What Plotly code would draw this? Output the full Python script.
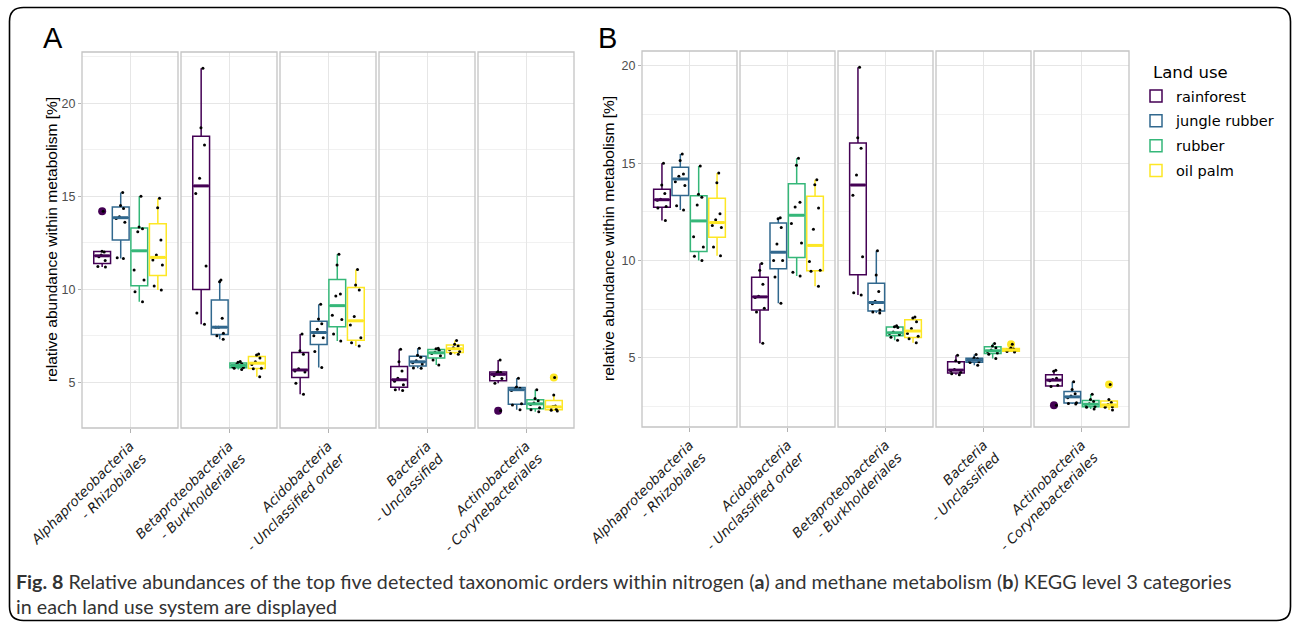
import numpy as np
import plotly.graph_objects as go

W, H = 1293, 624

land_use = ["rainforest", "jungle rubber", "rubber", "oil palm"]
land_colors = ["#440154", "#31688E", "#35B779", "#FDE725"]

# x labels of the two panels
orders_nitrogen = [
    "Alphaproteobacteria<br> - Rhizobiales",
    "Betaproteobacteria<br> - Burkholderiales",
    "Acidobacteria<br> - Unclassified order",
    "Bacteria<br> - Unclassified",
    "Actinobacteria<br> - Corynebacteriales",
]
orders_methane = [
    "Alphaproteobacteria<br> - Rhizobiales",
    "Acidobacteria<br> - Unclassified order",
    "Betaproteobacteria<br> - Burkholderiales",
    "Bacteria<br> - Unclassified",
    "Actinobacteria<br> - Corynebacteriales",
]

# relative abundance [%] per plot, one list per land use (rainforest, jungle rubber, rubber, oil palm)
# nitrogen metabolism (A)
n_rhizobiales = [
    [11.2, 11.22, 11.55, 11.75, 11.85, 12.0, 12.05, 14.2],
    [11.65, 11.7, 13.6, 13.8, 13.9, 14.35, 14.5, 15.2],
    [9.33, 9.87, 10.5, 11.04, 13.1, 13.25, 13.35, 15.0],
    [9.96, 10.18, 11.31, 11.58, 11.85, 12.65, 14.39, 14.9],
]
n_burkholderiales = [
    [8.12, 8.73, 11.25, 15.15, 15.97, 17.76, 18.69, 21.88],
    [7.31, 7.5, 7.63, 7.96, 7.96, 8.44, 10.41, 10.5],
    [5.68, 5.75, 5.8, 5.85, 5.95, 6.0, 6.08, 6.12],
    [5.3, 5.72, 5.75, 5.95, 6.1, 6.3, 6.47, 6.52],
]
n_acidobacteria = [
    [4.35, 4.95, 5.55, 5.6, 5.72, 6.5, 6.7, 7.6],
    [5.8, 6.65, 7.4, 7.5, 7.85, 8.15, 8.4, 9.2],
    [7.22, 7.6, 8.37, 8.6, 9.64, 9.75, 11.31, 11.88],
    [6.95, 7.13, 7.4, 8.08, 8.53, 9.96, 10.23, 11.07],
]
n_bacteria = [
    [4.55, 4.6, 4.86, 5.05, 5.22, 5.6, 6.1, 6.78],
    [5.75, 5.76, 5.98, 6.05, 6.15, 6.35, 6.45, 6.83],
    [5.93, 6.2, 6.42, 6.55, 6.62, 6.72, 6.8, 6.83],
    [6.5, 6.55, 6.65, 6.75, 6.85, 6.95, 7.05, 7.24],
]
n_corynebacteriales = [
    [3.47, 4.95, 5.2, 5.35, 5.5, 5.52, 5.57, 6.2],
    [3.52, 3.78, 3.85, 4.55, 4.65, 4.68, 4.75, 5.22],
    [3.42, 3.52, 3.63, 3.8, 3.88, 4.0, 4.12, 4.6],
    [3.45, 3.5, 3.55, 3.65, 3.7, 3.72, 4.32, 5.25],
]

# methane metabolism (B)
m_rhizobiales = [
    [12.05, 12.7, 12.78, 13.1, 13.15, 13.45, 13.88, 15.0],
    [12.6, 12.82, 13.86, 14.05, 14.33, 14.45, 15.14, 15.47],
    [10.0, 10.22, 10.7, 11.22, 12.85, 13.25, 13.4, 14.86],
    [10.25, 10.7, 11.7, 11.8, 12.1, 12.4, 14.0, 14.5],
]
m_acidobacteria = [
    [5.74, 7.35, 7.55, 8.1, 8.16, 8.78, 9.5, 9.85],
    [7.8, 9.15, 10.0, 10.0, 10.85, 11.7, 12.15, 12.2],
    [9.2, 9.4, 10.9, 11.9, 12.75, 13.0, 14.9, 15.25],
    [8.68, 9.45, 9.5, 9.95, 11.6, 12.7, 13.9, 14.15],
]
m_burkholderiales = [
    [8.22, 8.34, 10.19, 13.36, 14.4, 15.77, 16.31, 19.93],
    [7.3, 7.35, 7.45, 7.78, 7.9, 8.4, 9.25, 10.5],
    [5.9, 6.05, 6.2, 6.25, 6.32, 6.55, 6.6, 6.65],
    [5.77, 5.98, 6.1, 6.25, 6.5, 6.85, 7.05, 7.1],
]
m_bacteria = [
    [4.13, 4.18, 4.25, 4.33, 4.4, 4.75, 4.85, 5.13],
    [4.62, 4.75, 4.8, 4.85, 4.9, 4.95, 5.0, 5.17],
    [4.96, 5.18, 5.25, 5.32, 5.4, 5.52, 5.6, 5.73],
    [5.3, 5.32, 5.35, 5.38, 5.42, 5.45, 5.5, 5.69],
]
m_corynebacteriales = [
    [2.56, 3.52, 3.58, 3.82, 3.88, 3.95, 4.3, 4.36],
    [2.62, 2.65, 2.69, 2.95, 3.03, 3.15, 3.37, 3.76],
    [2.36, 2.45, 2.5, 2.58, 2.64, 2.75, 2.85, 3.13],
    [2.31, 2.45, 2.48, 2.55, 2.6, 2.7, 2.86, 3.63],
]

y_ticks = [5, 10, 15, 20]

panels = [
    dict(labels=orders_nitrogen,
         data=[n_rhizobiales, n_burkholderiales, n_acidobacteria, n_bacteria, n_corynebacteriales],
         left=[82, 181, 280, 379, 478], width=96, top=52, bottom=428,
         yrange=[2.54, 22.76], letter="A", letter_x=53, ytitle_x=52),
    dict(labels=orders_methane,
         data=[m_rhizobiales, m_acidobacteria, m_burkholderiales, m_bacteria, m_corynebacteriales],
         left=[642, 740, 838, 936, 1034], width=95, top=51, bottom=427,
         yrange=[1.44, 20.77], letter="B", letter_x=607, ytitle_x=609),
]


def fx(px):
    return px / W


def fy(py):
    return 1 - py / H


BOX_W = 0.21
offsets = [(j - 1.5) * 0.232 for j in range(4)]

fig = go.Figure()
layout = dict(
    width=W, height=H, margin=dict(l=0, r=0, t=0, b=0, autoexpand=False),
    paper_bgcolor="white", plot_bgcolor="white", boxmode="overlay",
    shapes=[], annotations=[],
)

GRID = "#e6e6e6"
BORDER = "#c4c4c4"

for p, panel in enumerate(panels):
    yname = "y" if p == 0 else "y2"
    ykey = "yaxis" if p == 0 else "yaxis2"
    first_x = "x" if p == 0 else "x6"
    layout[ykey] = dict(
        domain=[fy(panel["bottom"]), fy(panel["top"])], range=panel["yrange"],
        anchor=first_x, tickvals=y_ticks, ticks="outside", ticklen=3,
        tickcolor="#b3b3b3", showgrid=True, gridcolor=GRID, gridwidth=1,
        minor=dict(dtick=2.5, tick0=0, showgrid=True, gridcolor="#f1f1f1", gridwidth=1),
        zeroline=False, showline=False, automargin=False,
        tickfont=dict(family="Liberation Sans", size=12.5, color="#4d4d4d"),
    )
    for k in range(5):
        n = k + 1 + 5 * p
        xname = "x" if n == 1 else f"x{n}"
        xkey = "xaxis" if n == 1 else f"xaxis{n}"
        left = panel["left"][k]
        layout[xkey] = dict(
            domain=[fx(left), fx(left + panel["width"])], range=[-0.6, 0.6],
            anchor=yname, tickvals=[0], ticktext=[panel["labels"][k]],
            tickangle=-45, ticks="outside", ticklen=4, tickcolor="#b3b3b3",
            showgrid=True, gridcolor=GRID, zeroline=False, showline=False,
            automargin=False,
            tickfont=dict(family="DejaVu Sans", size=13.5, color="#1a1a1a", style="italic"),
        )
        layout["shapes"].append(dict(
            type="rect", xref=f"{xname} domain", yref=f"{yname} domain",
            x0=0, x1=1, y0=0, y1=1, line=dict(color=BORDER, width=1.3), layer="above",
        ))
        for j, vals in enumerate(panel["data"][k]):
            pos = offsets[j]
            col = land_colors[j]
            xs = [pos] * len(vals)
            fig.add_trace(go.Box(
                x=xs, y=vals, xaxis=xname, yaxis=yname, width=BOX_W,
                name=land_use[j], legendgroup=land_use[j],
                showlegend=(p == 0 and k == 0),
                boxpoints="outliers", whiskerwidth=0, fillcolor="white",
                line=dict(color=col, width=1.5),
                marker=dict(color=col, size=8, line=dict(width=0)),
                hoverinfo="skip",
            ))
            # thicker median bar
            med = float(np.median(vals))
            fig.add_trace(go.Scatter(
                x=[pos - BOX_W / 2 + 0.01, pos + BOX_W / 2 - 0.01], y=[med, med],
                xaxis=xname, yaxis=yname, mode="lines",
                line=dict(color=col, width=3), showlegend=False, hoverinfo="skip",
            ))
            # jittered sample points
            fig.add_trace(go.Box(
                x=xs, y=vals, xaxis=xname, yaxis=yname, width=BOX_W,
                boxpoints="all", jitter=0.8, pointpos=0, whiskerwidth=0,
                fillcolor="rgba(0,0,0,0)", line=dict(color="rgba(0,0,0,0)", width=0),
                marker=dict(color="black", size=3), showlegend=False, hoverinfo="skip",
            ))

    layout["annotations"].append(dict(
        text=panel["letter"], xref="paper", yref="paper",
        x=fx(panel["letter_x"]), y=fy(38), xanchor="center", yanchor="middle",
        showarrow=False, font=dict(family="Liberation Sans", size=29, color="black"),
    ))
    layout["annotations"].append(dict(
        text="relative abundance within metabolism [%]", xref="paper", yref="paper",
        x=fx(panel["ytitle_x"]), y=fy((panel["top"] + panel["bottom"]) / 2),
        xanchor="center", yanchor="middle", textangle=-90, showarrow=False,
        font=dict(family="Liberation Sans", size=15.5, color="black"),
    ))

# caption
caption_font = dict(family="Lato", size=19.7, color="#333333")
layout["annotations"].append(dict(
    text="<b>Fig. 8</b> Relative abundances of the top five detected taxonomic orders within "
         "nitrogen (<b>a</b>) and methane metabolism (<b>b</b>) KEGG level 3 categories",
    xref="paper", yref="paper", x=fx(14), y=fy(581), xanchor="left", yanchor="middle",
    showarrow=False, font=caption_font,
))
layout["annotations"].append(dict(
    text="in each land use system are displayed",
    xref="paper", yref="paper", x=fx(14), y=fy(606), xanchor="left", yanchor="middle",
    showarrow=False, font=caption_font,
))

# legend heading
layout["annotations"].append(dict(
    text="Land use", xref="paper", yref="paper", x=fx(1151), y=fy(72),
    xanchor="left", yanchor="middle", showarrow=False,
    font=dict(family="DejaVu Sans", size=16.5, color="black"),
))

# rounded outer frame
x0, y0, x1, y1, r = 9.5, 7.5, 1290.5, 620.5, 14


def pt(px, py):
    return f"{fx(px):.5f},{fy(py):.5f}"


frame_path = (
    f"M {pt(x0 + r, y0)} L {pt(x1 - r, y0)} Q {pt(x1, y0)} {pt(x1, y0 + r)} "
    f"L {pt(x1, y1 - r)} Q {pt(x1, y1)} {pt(x1 - r, y1)} "
    f"L {pt(x0 + r, y1)} Q {pt(x0, y1)} {pt(x0, y1 - r)} "
    f"L {pt(x0, y0 + r)} Q {pt(x0, y0)} {pt(x0 + r, y0)} Z"
)
layout["shapes"].append(dict(
    type="path", xref="paper", yref="paper", path=frame_path,
    line=dict(color="black", width=1.6), layer="above",
))

layout["legend"] = dict(
    x=fx(1136), y=fy(80), xanchor="left", yanchor="top",
    font=dict(family="DejaVu Sans", size=14.5, color="black"),
    bgcolor="rgba(0,0,0,0)", itemwidth=30, tracegroupgap=3,
)

fig.update_layout(**layout)
fig.write_html("out.html")
